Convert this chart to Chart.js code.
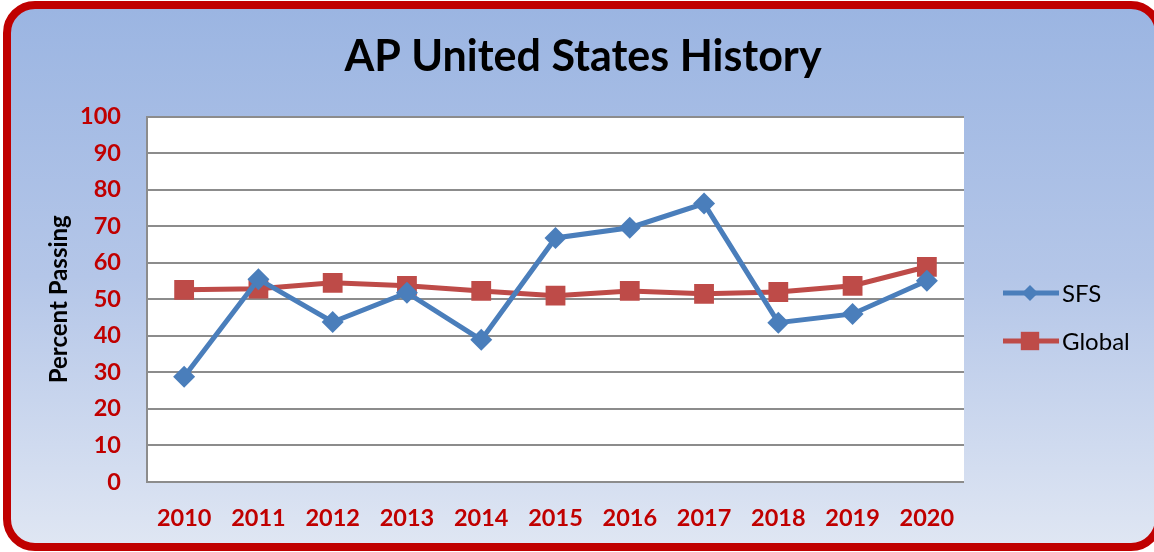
<!DOCTYPE html>
<html>
<head>
<meta charset="utf-8">
<script src="https://cdn.jsdelivr.net/npm/chart.js@4.4.0/dist/chart.umd.min.js"></script>
<style>
  html, body { margin: 0; padding: 0; width: 1154px; height: 552px; overflow: hidden; background: #fff; }
  #frame {
    position: absolute; left: 3px; top: 1px; width: 1160px; height: 550px;
    box-sizing: border-box; border: 8px solid #c00000; border-radius: 32px;
    background: linear-gradient(to bottom, #9bb5e2 0%, #b4c6e8 50%, #dfe6f3 100%);
  }
  #wrap { position: absolute; left: 0; top: 0; width: 1154px; height: 552px; }
</style>
</head>
<body>
<div id="frame"></div>
<div id="wrap"><canvas id="mycanvas" width="1154" height="552"></canvas></div>
<script>
var years = ['2010', '2011', '2012', '2013', '2014', '2015', '2016', '2017', '2018', '2019', '2020'];
var sfs = [28.8, 55.5, 43.8, 51.8, 38.9, 66.8, 69.6, 76.2, 43.6, 46.0, 55.1];
var global = [52.6, 52.9, 54.5, 53.7, 52.3, 51.0, 52.3, 51.5, 52.0, 53.7, 58.9];

var font = 'Lato, "Open Sans", sans-serif';

// white plot area + custom legend with line and marker
var plotBg = {
	id: 'plotBg',
	beforeDraw: function(chart) {
		var a = chart.chartArea, ctx = chart.ctx;
		ctx.save();
		ctx.fillStyle = '#ffffff';
		ctx.fillRect(a.left, a.top, a.right - a.left, a.bottom - a.top);
		ctx.restore();
	},
	afterDraw: function(chart) {
		var ctx = chart.ctx;
		var rows = [293, 341];
		var sizes = [8, 13];
		chart.data.datasets.forEach(function(ds, i) {
			var y = rows[i];
			ctx.save();
			ctx.strokeStyle = ds.borderColor;
			ctx.lineWidth = 5;
			ctx.beginPath();
			ctx.moveTo(1003, y);
			ctx.lineTo(1059, y);
			ctx.stroke();
			ctx.fillStyle = ds.backgroundColor;
			Chart.helpers.drawPoint(ctx, { pointStyle: ds.pointStyle, radius: sizes[i], borderWidth: 0 }, 1030, y);
			ctx.fillStyle = '#000000';
			ctx.font = '24px ' + font;
			ctx.textBaseline = 'middle';
			ctx.fillText(ds.label, 1062, y + 1);
			ctx.restore();
		});
	}
};

var chartdata = {
	labels: years,
	datasets: [
		{
			label: 'SFS',
			data: sfs,
			borderColor: '#4a7ebb',
			backgroundColor: '#4a7ebb',
			borderWidth: 5,
			pointStyle: 'rectRot',
			pointRadius: 11,
			pointHoverRadius: 11,
			pointBorderWidth: 0
		},
		{
			label: 'Global',
			data: global,
			borderColor: '#be4b48',
			backgroundColor: '#be4b48',
			borderWidth: 5,
			pointStyle: 'rect',
			pointRadius: 14,
			pointHoverRadius: 14,
			pointBorderWidth: 0
		}
	]
};

var tickFont = { family: font, size: 23.5, weight: 'bold' };

var ctx = document.getElementById('mycanvas');
var lineGraph = new Chart(ctx, {
	type: 'line',
	data: chartdata,
	plugins: [plotBg],
	options: {
		responsive: false,
		animation: false,
		devicePixelRatio: 1,
		layout: { padding: { left: 12, right: 0, top: 0, bottom: 0 } },
		plugins: {
			legend: { display: false },
			tooltip: { enabled: false },
			title: {
				display: true,
				text: 'AP United States History',
				color: '#000000',
				font: { family: font, size: 43, weight: 'bold' },
				padding: { top: 31, bottom: 34 }
			}
		},
		scales: {
			x: {
				offset: true,
				grid: { display: false, drawTicks: false },
				border: { display: false },
				ticks: { color: '#c00000', font: tickFont, padding: 22 },
				afterFit: function(scale) { scale.height = 70; }
			},
			y: {
				min: 0,
				max: 100,
				grid: { color: '#8c8c8c', lineWidth: 2, drawTicks: false },
				border: { display: true, color: '#8c8c8c', width: 2 },
				ticks: { stepSize: 10, color: '#c00000', font: tickFont, padding: 26 },
				title: {
					display: true,
					text: 'Percent Passing',
					color: '#000000',
					font: { family: font, size: 24, weight: 'bold' },
					padding: { top: 33, bottom: 0 }
				},
				afterFit: function(scale) { scale.width = 135; }
			},
			// empty right axis: room for the legend, keeps the title centred on the whole box
			yRight: {
				position: 'right',
				grid: { display: false, drawTicks: false },
				border: { display: false },
				ticks: { display: false },
				afterFit: function(scale) { scale.width = 190; }
			}
		}
	}
});
</script>
</body>
</html>
